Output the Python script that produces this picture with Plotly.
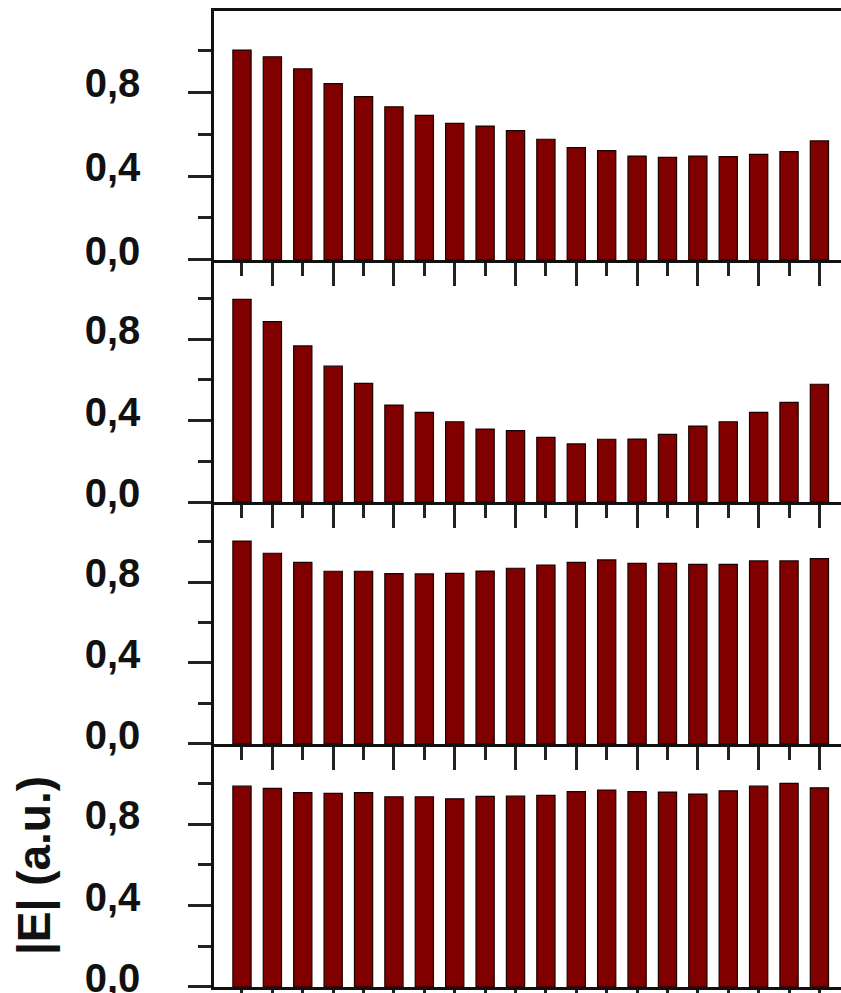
import plotly.graph_objects as go

# ---- data ----
positions = list(range(1, 21))
panel1 = [1.000, 0.968, 0.910, 0.840, 0.778, 0.730, 0.689, 0.651, 0.638, 0.616,
          0.575, 0.535, 0.521, 0.495, 0.489, 0.495, 0.492, 0.503, 0.516, 0.567]
panel2 = [0.995, 0.885, 0.766, 0.667, 0.582, 0.476, 0.440, 0.394, 0.358, 0.350,
          0.317, 0.285, 0.308, 0.309, 0.332, 0.373, 0.394, 0.440, 0.489, 0.578]
panel3 = [1.002, 0.942, 0.897, 0.853, 0.853, 0.841, 0.840, 0.843, 0.854, 0.868,
          0.884, 0.897, 0.909, 0.892, 0.892, 0.887, 0.887, 0.904, 0.904, 0.915]
panel4 = [0.986, 0.975, 0.954, 0.951, 0.954, 0.934, 0.934, 0.924, 0.936, 0.937,
          0.941, 0.959, 0.967, 0.959, 0.957, 0.947, 0.963, 0.986, 1.000, 0.978]
panels = [panel1, panel2, panel3, panel4]

y_tickvals = [0.0, 0.4, 0.8]
y_ticktext = ["0,0", "0,4", "0,8"]
y_minorvals = [0.2, 0.6, 1.0]
x_majorvals = [2, 4, 6, 8, 10, 12, 14, 16, 18, 20]
x_minorvals = [1, 3, 5, 7, 9, 11, 13, 15, 17, 19]
y_title = "|E| (a.u.)"

# ---- style ----
BAR = "#800000"
FONT = "Liberation Sans, Arial, sans-serif"
domains = [[0.7449, 1.0], [0.4969, 0.7449], [0.2490, 0.4969], [0.0, 0.2490]]
yranges = [[0, 1.186], [0, 1.188], [0, 1.195], [0, 1.193]]

fig = go.Figure()
for i, vals in enumerate(panels):
    n = i + 1
    fig.add_trace(go.Bar(
        x=positions, y=vals,
        xaxis="x" if n == 1 else f"x{n}",
        yaxis="y" if n == 1 else f"y{n}",
        width=0.6,
        marker=dict(color=BAR, line=dict(color="#1a0000", width=1.2)),
        showlegend=False,
    ))

layout = dict(
    width=841, height=993,
    margin=dict(l=214, r=0, t=11, b=6, autoexpand=False),
    paper_bgcolor="white", plot_bgcolor="white",
    bargap=0.4,
    font=dict(family=FONT, size=40, color="#111111"),
)
for i in range(4):
    n = i + 1
    xs = "xaxis" if n == 1 else f"xaxis{n}"
    ys = "yaxis" if n == 1 else f"yaxis{n}"
    layout[xs] = dict(
        domain=[0, 1],
        anchor="y" if n == 1 else f"y{n}",
        range=[0.079, 20.71],
        automargin=False,
        showgrid=False, zeroline=False,
        showline=True, linecolor="#111111", linewidth=2.5,
        mirror=(n == 1),
        ticks="outside", ticklen=23, tickwidth=2.5, tickcolor="#222222",
        tickmode="array", tickvals=x_majorvals,
        showticklabels=False,
        minor=dict(tickmode="array", tickvals=x_minorvals, ticks="outside",
                   ticklen=13, tickwidth=2.5, tickcolor="#222222"),
    )
    ydict = dict(
        domain=domains[i],
        anchor="x" if n == 1 else f"x{n}",
        range=yranges[i],
        automargin=False,
        showgrid=False, zeroline=False,
        showline=True, linecolor="#111111", linewidth=2.5,
        ticks="outside", ticklen=23, tickwidth=2.5, tickcolor="#222222",
        tickmode="array", tickvals=y_tickvals, ticktext=y_ticktext,
        tickfont=dict(family=FONT, size=40, weight="bold", color="#111111"),
        ticklabelstandoff=40, ticklabelshift=-9, ticklabeloverflow="allow",
        minor=dict(tickmode="array", tickvals=y_minorvals, ticks="outside",
                   ticklen=13, tickwidth=2.5, tickcolor="#222222"),
    )
    if n == 4:
        ydict["title"] = dict(text=y_title,
                              font=dict(family=FONT, size=46, weight="bold", color="#111111"),
                              standoff=20)
    layout[ys] = ydict

fig.update_layout(**layout)
fig.write_html("out.html")
